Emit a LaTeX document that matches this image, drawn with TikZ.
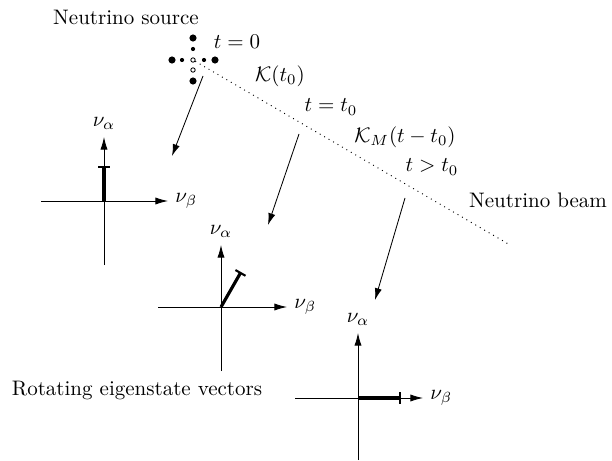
\documentclass[tikz,border=0pt]{standalone}
\usetikzlibrary{arrows.meta, positioning}
\tikzset{
    % Coordinate axes - thin line with filled head
    axis/.style={line width=0.4pt, -{Latex[length=6pt,width=3.4pt]}},
    % Time evolution arrows - from beam to the axes
    time arrow/.style={line width=0.4pt, -{Latex[length=5.6pt,width=3.4pt]}},
    % Eigenstate vector - thick line ending in a bar
    state vector/.style={line width=1.5pt, -{Bar[width=5.5pt,line width=1pt]}},
    % Neutrino beam - dotted line
    beam/.style={dotted, line width=0.45pt},
    % Source dots
    big dot/.style={circle, fill, inner sep=0pt, minimum size=3.4pt},
    small dot/.style={circle, fill, inner sep=0pt, minimum size=2pt},
    hollow dot/.style={circle, draw, line width=0.4pt, fill=white, inner sep=0pt, minimum size=2.1pt}
}

\begin{document}
\begin{tikzpicture}[x=0.476pt, y=-0.476pt]
    \useasboundingbox (0,0) rectangle (612,460);

    % --- Neutrino source ---
    \node[big dot] (srcN) at (193,38) {};
    \node[small dot] (srcn) at (193,49) {};
    \node[big dot] (srcW) at (172,60) {};
    \node[small dot] (srcw) at (182,60) {};
    \node[hollow dot] (src) at (193,60) {};
    \node[small dot] (srce) at (204,60) {};
    \node[big dot] (srcE) at (215,60) {};
    \node[hollow dot] (srcs) at (193,70) {};
    \node[big dot] (srcS) at (193,81) {};
    \node (srclabel) at (126,17) {Neutrino source};

    % --- Beam and time labels ---
    \coordinate (beamend) at (510,245);
    \draw[beam] (src) -- (beamend);
    \node (tzero) at (237,42) {$t=0$};
    \node (kzero) at (280,76) {$\mathcal{K}(t_0)$};
    \node (tnaught) at (331,107) {$t=t_0$};
    \node (kmat) at (405,137) {$\mathcal{K}_M(t-t_0)$};
    \node (tlater) at (432,167) {$t>t_0$};
    \node (beamlabel) at (538,200) {Neutrino beam};

    % --- Time arrows ---
    \coordinate (a1) at (203,76);  \coordinate (b1) at (172,156);
    \coordinate (a2) at (299,134); \coordinate (b2) at (268,225);
    \coordinate (a3) at (405,198); \coordinate (b3) at (375,300);
    \draw[time arrow] (a1) -- (b1);
    \draw[time arrow] (a2) -- (b2);
    \draw[time arrow] (a3) -- (b3);

    % --- Eigenstate axes ---
    % at t = 0
    \coordinate (O1) at (104,201);
    \draw[axis] (O1) ++(-63,0) -- ++(127,0) node[right] (b1lab) {$\nu_\beta$};
    \draw[axis] (O1) ++(0,64) -- ++(0,-128) node[above] (a1lab) {$\nu_\alpha$};
    \coordinate (v1) at (104,166);
    \draw[state vector] (O1) -- (v1);

    % at t = t_0
    \coordinate (O2) at (221,307);
    \draw[axis] (O2) ++(-63,0) -- ++(129,0) node[right] (b2lab) {$\nu_\beta$};
    \draw[axis] (O2) ++(0,64) -- ++(0,-126) node[above] (a2lab) {$\nu_\alpha$};
    \coordinate (v2) at (241,272);
    \draw[state vector] (O2) -- (v2);

    % at t > t_0
    \coordinate (O3) at (358,398);
    \draw[axis] (O3) ++(-63,0) -- ++(128,0) node[right] (b3lab) {$\nu_\beta$};
    \draw[axis] (O3) ++(0,62) -- ++(0,-127) node[above] (a3lab) {$\nu_\alpha$};
    \coordinate (v3) at (401,398);
    \draw[state vector] (O3) -- (v3);

    \node (rotlabel) at (137,390) {Rotating eigenstate vectors};
\end{tikzpicture}
\end{document}
